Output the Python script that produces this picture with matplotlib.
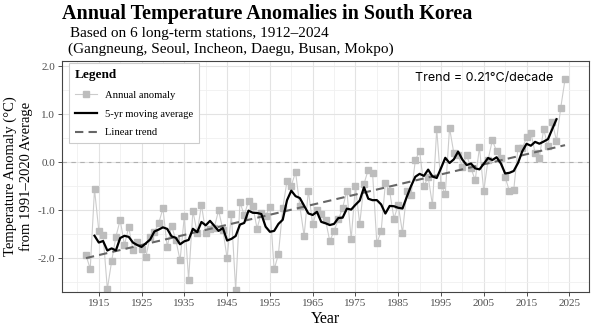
import numpy as np
import pandas as pd
import matplotlib
matplotlib.use("Agg")
import matplotlib.pyplot as plt
from matplotlib.lines import Line2D
from matplotlib.ticker import MultipleLocator, FixedLocator

# Annual mean temperature anomaly (°C, relative to 1991–2020), 6-station average
years = list(range(1912, 2025))
anomaly = [
    -1.93, -2.22, -0.56, -1.42, -1.51, -2.64, -2.06, -1.55, -1.20, -1.72,  # 1912-1921
    -1.35, -1.83, -1.66, -1.80, -1.97, -1.55, -1.45, -1.27, -0.96, -1.77,  # 1922-1931
    -1.32, -1.61, -2.04, -1.12, -2.44, -1.01, -1.47, -0.88, -1.47, -1.38,  # 1932-1941
    -1.36, -1.00, -1.40, -2.00, -1.08, -2.66, -0.83, -1.10, -0.81, -0.91,  # 1942-1951
    -1.38, -1.05, -1.12, -0.92, -2.23, -1.91, -0.96, -0.39, -0.49, -0.20,  # 1952-1961
    -0.91, -1.53, -0.59, -1.29, -1.00, -1.07, -1.20, -1.64, -1.43, -1.19,  # 1962-1971
    -0.95, -0.59, -1.60, -0.49, -1.29, -0.45, -0.15, -0.22, -1.68, -1.44,  # 1972-1981
    -0.44, -0.60, -1.17, -0.89, -1.47, -0.60, -0.68, 0.04, 0.24, -0.50,    # 1982-1991
    -0.30, -0.89, 0.69, -0.47, -0.66, 0.72, 0.19, 0.15, -0.09, 0.15,       # 1992-2001
    -0.12, -0.37, 0.31, -0.60, 0.05, 0.46, 0.23, 0.10, -0.31, -0.60,       # 2002-2011
    -0.58, 0.30, 0.29, 0.52, 0.62, 0.20, 0.10, 0.69, 0.33, 0.84,           # 2012-2021
    0.45, 1.14, 1.73,                                                      # 2022-2024
]
trend_per_decade = 0.21

x_ticks = [1915, 1925, 1935, 1945, 1955, 1965, 1975, 1985, 1995, 2005, 2015, 2025]
y_ticks = [-2.0, -1.0, 0.0, 1.0, 2.0]

df = pd.DataFrame({"year": years, "anomaly": anomaly})
df["ma5"] = df["anomaly"].rolling(5, center=True).mean()
slope = trend_per_decade / 10.0
intercept = df["anomaly"].mean() - slope * df["year"].mean()
df["trend"] = intercept + slope * df["year"]

serif = ["Liberation Serif", "DejaVu Serif"]
plt.rcParams["font.family"] = serif

W, H = 594, 333
fig = plt.figure(figsize=(W / 100, H / 100), dpi=100)
ax_l, ax_r, ax_t, ax_b = 62, 589, 61, 292
ax = fig.add_axes([ax_l / W, 1 - ax_b / H, (ax_r - ax_l) / W, (ax_b - ax_t) / H])

ax.set_xlim(1906.4, 2029.6)
ax.set_ylim(-2.70, 2.11)

# grid
ax.xaxis.set_major_locator(FixedLocator(x_ticks))
ax.xaxis.set_minor_locator(FixedLocator([t + 5 for t in x_ticks[:-1]] + [1910]))
ax.yaxis.set_major_locator(FixedLocator(y_ticks))
ax.yaxis.set_minor_locator(MultipleLocator(0.5))
ax.grid(which="major", color="#e3e3e3", linewidth=0.8, zorder=0)
ax.grid(which="minor", color="#f0f0f0", linewidth=0.6, zorder=0)
ax.set_axisbelow(True)

ax.axhline(0, color="#b0b0b0", linewidth=0.8, linestyle=(0, (4, 4)), zorder=1)

ax.plot(df["year"], df["anomaly"], color="#cccccc", linewidth=0.8,
        marker="s", markersize=4, markerfacecolor="#bdbdbd",
        markeredgecolor="#bdbdbd", zorder=2)
ax.plot(df["year"], df["trend"], color="#666666", linewidth=1.5,
        linestyle=(0, (4, 2.5)), zorder=3)
ax.plot(df["year"], df["ma5"], color="black", linewidth=1.6, zorder=4)

ax.set_xticks(x_ticks)
ax.set_xticklabels([str(t) for t in x_ticks])
ax.set_yticks(y_ticks)
ax.set_yticklabels([f"{t:.1f}" for t in y_ticks])
ax.tick_params(axis="both", which="major", labelsize=8, colors="#333333",
               labelcolor="#4d4d4d", length=3, width=0.6, pad=2)
ax.tick_params(axis="both", which="minor", length=0)
for s in ax.spines.values():
    s.set_color("#444444")
    s.set_linewidth(0.8)

ax.set_xlabel("Year", fontsize=11.5, labelpad=2)
ax.set_ylabel("Temperature Anomaly (°C)\nfrom 1991–2020 Average", fontsize=10.5,
              linespacing=1.2, labelpad=3)

ax.text(0.932, 0.925, f"Trend = {trend_per_decade:.2f}°C/decade", transform=ax.transAxes,
        ha="right", va="center", fontsize=9, family=["Inter", "DejaVu Sans"])

handles = [
    Line2D([], [], color="#cccccc", linewidth=0.8, marker="s", markersize=4,
           markerfacecolor="#bdbdbd", markeredgecolor="#bdbdbd"),
    Line2D([], [], color="black", linewidth=1.6),
    Line2D([], [], color="#666666", linewidth=1.5, linestyle=(0, (4, 2.5))),
]
leg = ax.legend(handles, ["Annual anomaly", "5-yr moving average", "Linear trend"],
                loc="upper left",
                bbox_to_anchor=((69 - ax_l) / (ax_r - ax_l), 1 - (63 - ax_t) / (ax_b - ax_t)),
                borderaxespad=0, fontsize=7.6,
                title="Legend", title_fontproperties={"weight": "bold", "size": 9.5,
                                                      "family": serif},
                frameon=True, fancybox=False, edgecolor="#cccccc", framealpha=1,
                handlelength=2.1, borderpad=0.55, labelspacing=0.9, handletextpad=0.75)
leg._legend_box.align = "left"
leg.get_frame().set_linewidth(0.8)

fig.text(62 / W, 1 - 14 / H, "Annual Temperature Anomalies in South Korea",
         fontsize=14.5, fontweight="bold", ha="left", va="center")
fig.text(70 / W, 1 - 33 / H, "Based on 6 long-term stations, 1912–2024",
         fontsize=11, ha="left", va="center")
fig.text(68 / W, 1 - 49 / H, "(Gangneung, Seoul, Incheon, Daegu, Busan, Mokpo)",
         fontsize=11, ha="left", va="center")

fig.savefig("out.png", dpi=100)
